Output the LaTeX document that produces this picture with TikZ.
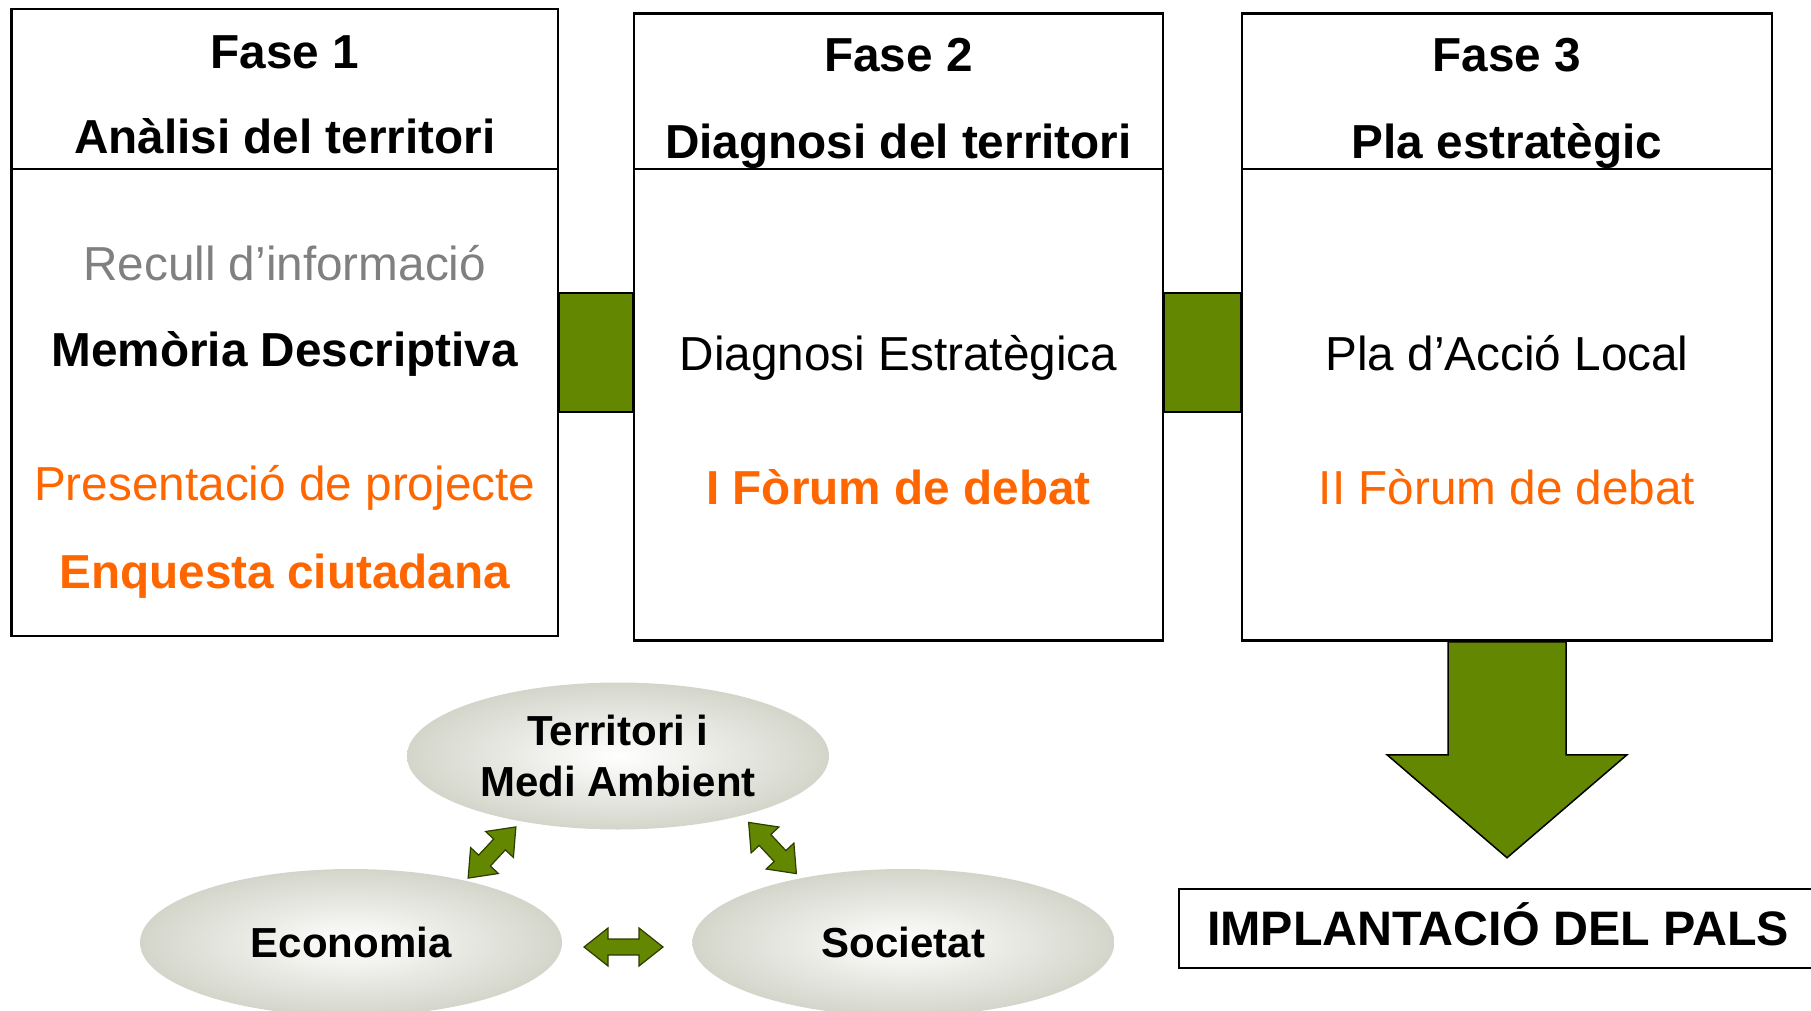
\documentclass[tikz,border=0pt]{standalone}
\usepackage{fontspec}
\setmainfont{Liberation Sans}
\usetikzlibrary{calc,positioning,shapes.geometric}

\definecolor{pgreen}{RGB}{99,135,0}
\definecolor{porange}{RGB}{255,102,0}
\definecolor{pgray}{RGB}{128,128,128}
\definecolor{pbeige}{RGB}{212,213,202}
\definecolor{pdark}{RGB}{45,60,0}

\begin{document}
\begin{tikzpicture}[x=1pt,y=-1pt,
  phase/.style={draw,line width=2.5pt,minimum height=627pt,inner sep=0pt},
  txt/.style={anchor=base,inner sep=0pt,font=\fontsize{47.7}{57}\selectfont},
  hd/.style={anchor=base,inner sep=0pt,font=\fontsize{47.7}{57}\selectfont\bfseries},
  link/.style={fill=pgreen,draw=black,line width=1.5pt},
  topic/.style={ellipse,minimum width=422pt,minimum height=147pt,inner sep=0pt,
    inner color=white,outer color=pbeige,align=center,
    font=\fontsize{42}{51}\selectfont\bfseries},
  pics/dblarr/.style={code={
    \filldraw[fill=pgreen,draw=pdark,line width=1.2pt]
      (-#1,0) -- (-#1+24,19) -- (-#1+24,8) -- (#1-24,8) -- (#1-24,19) -- (#1,0)
      -- (#1-24,-19) -- (#1-24,-8) -- (-#1+24,-8) -- (-#1+24,-19) -- cycle;}}]
  \useasboundingbox (0,0) rectangle (1811,1011);

  % the three phases
  \node[phase,minimum width=546.5pt] (f1) at (284.75,322.5) {};
  \node[phase,minimum width=529pt] (f2) [right=73.5pt of f1,yshift=-4.5pt] {};
  \node[phase,minimum width=530pt] (f3) [right=76.5pt of f2] {};
  \coordinate (hl) at (0,169);
  \draw[line width=2pt] (f1.west |- hl) -- (f1.east |- hl);
  \draw[line width=2pt] (f2.west |- hl) -- (f2.east |- hl);
  \draw[line width=2pt] (f3.west |- hl) -- (f3.east |- hl);

  \node[hd] (f1a) at ($(f1.north)+(0,60.5)$) {Fase 1};
  \node[hd] (f1b) at ($(f1.north)+(0,145.5)$) {Anàlisi del territori};
  \node[txt,text=pgray] (f1c) at ($(f1.north)+(0,272.5)$) {Recull d’informació};
  \node[hd] (f1d) at ($(f1.north)+(0,358.5)$) {Memòria Descriptiva};
  \node[txt,text=porange] (f1e) at ($(f1.north)+(0,492.5)$) {Presentació de projecte};
  \node[hd,text=porange] (f1f) at ($(f1.north)+(0,580.5)$) {Enquesta ciutadana};

  \node[hd] (f2a) at ($(f2.north)+(0,59)$) {Fase 2};
  \node[hd] (f2b) at ($(f2.north)+(0,146)$) {Diagnosi del territori};
  \node[txt] (f2c) at ($(f2.north)+(0,358)$) {Diagnosi Estratègica};
  \node[hd,text=porange] (f2d) at ($(f2.north)+(0,492)$) {I Fòrum de debat};

  \node[hd] (f3a) at ($(f3.north)+(0,59)$) {Fase 3};
  \node[hd] (f3b) at ($(f3.north)+(0,146)$) {Pla estratègic};
  \node[txt] (f3c) at ($(f3.north)+(0,358)$) {Pla d’Acció Local};
  \node[txt,text=porange] (f3d) at ($(f3.north)+(0,492)$) {II Fòrum de debat};

  % links between phases
  \filldraw[link] (f1.east |- 0,293) rectangle (f2.west |- 0,412);
  \filldraw[link] (f2.east |- 0,293) rectangle (f3.west |- 0,412);

  % result
  \node[draw,line width=2.5pt,minimum width=638pt,minimum height=79pt,
    text height=34pt,text depth=0pt,inner sep=0pt,
    font=\fontsize{48.4}{57}\selectfont\bfseries] (impl) at (1498,928.5) {IMPLANTACIÓ DEL PALS};
  \filldraw[link] ($(f3.south)+(-59,0)$) -- ++(0,113) -- ++(-61,0)
    -- ($(f3.south)+(0,216)$) -- ($(f3.south)+(120,113)$) -- ++(-61,0)
    -- ($(f3.south)+(59,0)$) -- cycle;

  % the three axes
  \node[topic] (ter) at (618,756) {Territori i\\Medi Ambient};
  \node[topic] (eco) at (351,942.5) {Economia};
  \node[topic] (soc) [right=130pt of eco] {Societat};
  \pic[rotate=47] at (492,852.5) {dblarr=35};
  \pic[rotate=-47] at (772.5,848) {dblarr=35};
  \pic at (623.5,947) {dblarr=39.5};
\end{tikzpicture}
\end{document}
